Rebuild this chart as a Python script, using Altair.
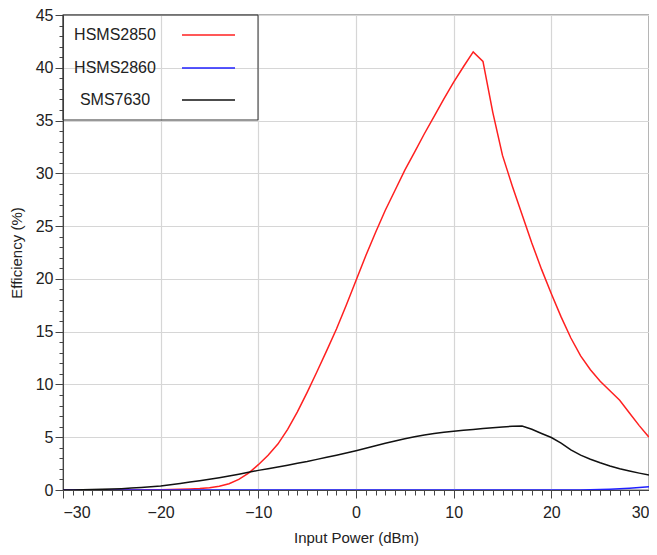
import altair as alt
import pandas as pd

# ---- data ----
power = list(range(-30, 31))

hsms2850 = [0, 0, 0, 0, 0, 0, 0.005, 0.01, 0.01, 0.02,
            0.02, 0.04, 0.06, 0.09, 0.14, 0.22, 0.36, 0.6, 1.0, 1.6,
            2.4, 3.3, 4.35, 5.75, 7.4, 9.25, 11.2, 13.2, 15.25, 17.5,
            19.85, 22.2, 24.4, 26.5, 28.4, 30.3, 32.0, 33.75, 35.4, 37.05,
            38.65, 40.1, 41.5, 40.6, 35.8, 31.7, 28.8, 26.1, 23.4, 20.9,
            18.6, 16.4, 14.4, 12.7, 11.4, 10.3, 9.4, 8.5, 7.3, 6.1,
            5.0]

hsms2860 = [0] * 53 + [0.01, 0.03, 0.05, 0.08, 0.12, 0.17, 0.23, 0.3]

sms7630 = [0, 0.01, 0.02, 0.04, 0.06, 0.09, 0.13, 0.18, 0.24, 0.31,
           0.39, 0.5, 0.62, 0.75, 0.88, 1.02, 1.17, 1.33, 1.5, 1.68,
           1.86, 2.02, 2.18, 2.35, 2.53, 2.7, 2.9, 3.1, 3.3, 3.5,
           3.72, 3.95, 4.2, 4.42, 4.65, 4.86, 5.05, 5.22, 5.35, 5.47,
           5.57, 5.66, 5.74, 5.82, 5.9, 5.97, 6.04, 6.07, 5.75, 5.35,
           4.97, 4.45, 3.8, 3.3, 2.92, 2.58, 2.27, 2.02, 1.8, 1.6,
           1.42]

series_names = ["HSMS2850", "HSMS2860", "SMS7630"]
series_colors = ["#ff2020", "#2020ff", "#111111"]
series_values = [hsms2850, hsms2860, sms7630]

x_ticks = list(range(-30, 31))
y_ticks = list(range(0, 46))

rows = []
for name, vals in zip(series_names, series_values):
    for p, v in zip(power, vals):
        rows.append({"power": p, "eff": v, "series": name})
df = pd.DataFrame(rows)

FONT = "Liberation Sans"

x_axis = alt.Axis(
    title="Input Power (dBm)",
    values=x_ticks,
    labelExpr="datum.value % 10 === 0 ? datum.label : ''",
    tickSize={"condition": {"test": "datum.value % 10 === 0", "value": 8}, "value": 5},
    gridOpacity={"condition": {"test": "datum.value % 10 === 0", "value": 1}, "value": 0},
    labelPadding=6,
    titlePadding=10,
    labelOverlap=False,
)
y_axis = alt.Axis(
    title="Efficiency (%)",
    values=y_ticks,
    labelExpr="datum.value % 5 === 0 ? datum.label : ''",
    tickSize={"condition": {"test": "datum.value % 5 === 0", "value": 8}, "value": 4},
    gridOpacity={"condition": {"test": "datum.value % 5 === 0", "value": 1}, "value": 0},
    labelPadding=2,
    titlePadding=11,
    labelOverlap=False,
)

lines = alt.Chart(df).mark_line(strokeWidth=1.5, clip=True).encode(
    x=alt.X("power:Q", scale=alt.Scale(domain=[-30, 30], nice=False), axis=x_axis),
    y=alt.Y("eff:Q", scale=alt.Scale(domain=[0, 45], nice=False), axis=y_axis),
    color=alt.Color("series:N", scale=alt.Scale(domain=series_names, range=series_colors), legend=None),
    order=alt.Order("power:Q"),
)

one = pd.DataFrame({"k": [0]})
layers = [lines]
layers.append(
    alt.Chart(one).mark_rect(fillOpacity=0, stroke="#333333", strokeWidth=1).encode(
        x=alt.value(0), x2=alt.value(195), y=alt.value(0), y2=alt.value(105)
    )
)
row_y = [20, 53, 85]
for name, col, yy in zip(series_names, series_colors, row_y):
    layers.append(
        alt.Chart(one).mark_text(text=name, font=FONT, fontSize=16, color="#222222",
                                 align="center", baseline="middle").encode(
            x=alt.value(52), y=alt.value(yy)
        )
    )
    layers.append(
        alt.Chart(one).mark_rule(color=col, strokeWidth=1.5).encode(
            x=alt.value(119), x2=alt.value(172), y=alt.value(yy)
        )
    )

chart = alt.layer(*layers).properties(
    width=586,
    height=475,
    autosize=alt.AutoSizeParams(type="none"),
    padding={"left": 55, "top": 7, "right": 0, "bottom": 57},
).configure_view(
    stroke="#999999", strokeWidth=1.5
).configure_axis(
    labelFont=FONT, labelFontSize=16, labelColor="#222222",
    titleFont=FONT, titleFontSize=15, titleFontWeight="normal", titleColor="#222222",
    domainColor="#444444", tickColor="#444444", gridColor="#d6d6d6", gridWidth=1.2,
)

chart.save("out.html", embed_options={"renderer": "svg", "actions": False})
